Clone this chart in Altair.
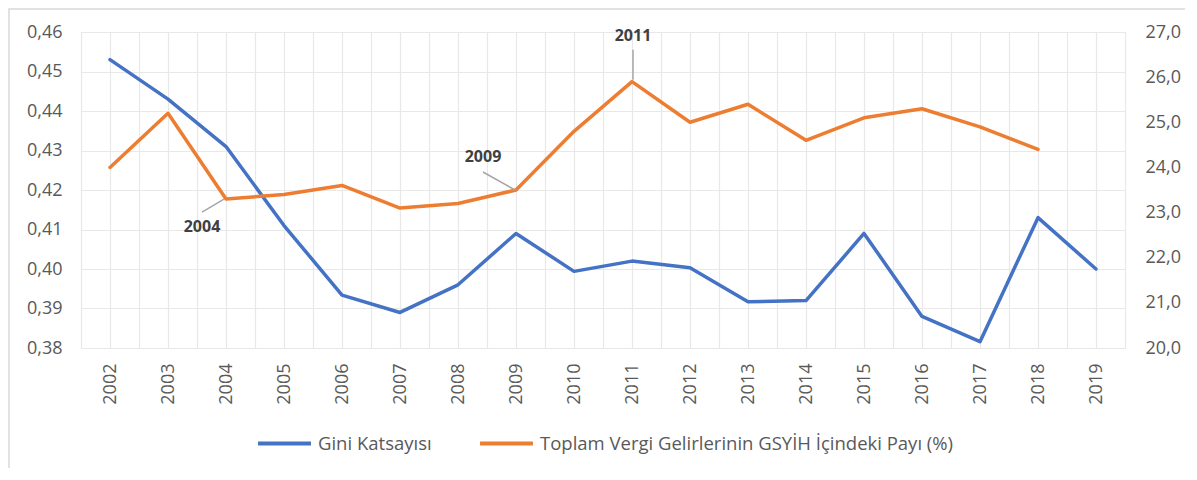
import altair as alt
import pandas as pd

# ---------------- data ----------------
YEARS = [2002, 2003, 2004, 2005, 2006, 2007, 2008, 2009, 2010,
         2011, 2012, 2013, 2014, 2015, 2016, 2017, 2018, 2019]
GINI = [0.453, 0.443, 0.431, 0.411, 0.3934, 0.389, 0.396, 0.409, 0.3994,
        0.402, 0.4003, 0.3917, 0.392, 0.409, 0.388, 0.3816, 0.413, 0.400]
TAX = [24.0, 25.2, 23.3, 23.4, 23.6, 23.1, 23.2, 23.5, 24.8,
       25.9, 25.0, 25.4, 24.6, 25.1, 25.3, 24.9, 24.4, None]
SERIES = ["Gini Katsayısı", "Toplam Vergi Gelirlerinin GSYİH İçindeki Payı (%)"]
LEFT_TICKS = [0.38, 0.39, 0.40, 0.41, 0.42, 0.43, 0.44, 0.45, 0.46]
RIGHT_TICKS = [20, 21, 22, 23, 24, 25, 26, 27]
ANNOT_YEARS = [2004, 2009, 2011]

# ---------------- styles ----------------
FONT = "Open Sans"
TXT = "#595959"
GRID = "#e8e8e8"
BLUE = "#4472C4"
ORANGE = "#ED7D31"
# (text dx, text dy, leader start offset x/y, leader end offset x/y)
ANNOT_STYLE = {
    2004: dict(dx=-24, dy=28, x1=-2, y1=0, x2=-24, y2=13),
    2009: dict(dx=-33, dy=-33, x1=-1, y1=0, x2=-33, y2=-18),
    2011: dict(dx=1, dy=-46, x1=1, y1=-2, x2=1, y2=-32),
}

gini_df = pd.DataFrame({"year": YEARS, "value": GINI, "series": SERIES[0]})
tax_df = pd.DataFrame({"year": YEARS, "value": TAX, "series": SERIES[1]})

grid_vals = sorted([y - 0.5 for y in YEARS] + [YEARS[-1] + 0.5] + YEARS)

color = alt.Color(
    "series:N",
    scale=alt.Scale(domain=SERIES, range=[BLUE, ORANGE]),
    legend=alt.Legend(
        title=None, orient="none", direction="horizontal",
        legendX=175, legendY=383,
        symbolType="stroke", symbolSize=2800, symbolStrokeWidth=4,
        labelFont=FONT, labelFontSize=18.5, labelColor=TXT, labelLimit=1000,
        labelOffset=5, columnPadding=40,
    ),
)

x_axis = alt.Axis(
    values=grid_vals,
    labelExpr="datum.value % 1 == 0 ? toString(datum.value) : ''",
    labelAngle=-90, labelPadding=15, labelOverlap=False, labelFlush=False,
    labelFont=FONT, labelFontSize=18, labelColor=TXT,
    grid=True, gridColor=GRID, gridWidth=1.2,
    ticks=False, domain=False, title=None,
)
x_scale = alt.Scale(domain=[2001.5, 2019.5], nice=False, zero=False)
x = alt.X("year:Q", scale=x_scale, axis=x_axis)

y_left = alt.Y(
    "value:Q",
    scale=alt.Scale(domain=[0.38, 0.46], nice=False, zero=False),
    axis=alt.Axis(
        values=LEFT_TICKS, orient="left",
        labelExpr="replace(format(datum.value, '.2f'), '.', ',')",
        labelPadding=19, labelFont=FONT, labelFontSize=18, labelColor=TXT,
        grid=True, gridColor=GRID, gridWidth=1.2,
        ticks=False, domain=False, title=None,
    ),
)

y_right_axis = alt.Axis(
    values=RIGHT_TICKS, orient="right",
    labelExpr="replace(format(datum.value, '.1f'), '.', ',')",
    labelPadding=20, labelFont=FONT, labelFontSize=18, labelColor=TXT,
    grid=False, ticks=False, domain=False, title=None,
)
y_right_scale = alt.Scale(domain=[20, 27], nice=False, zero=False)
y_right = alt.Y("value:Q", scale=y_right_scale, axis=y_right_axis)

gini_line = alt.Chart(gini_df).mark_line(strokeWidth=3.5, strokeCap="round", strokeJoin="round").encode(
    x=x, y=y_left, color=color
)

tax_line = alt.Chart(tax_df).mark_line(strokeWidth=3.5, strokeCap="round", strokeJoin="round").encode(
    x=x, y=y_right, color=color
)

annot_layers = []
for yr in ANNOT_YEARS:
    s = ANNOT_STYLE[yr]
    sub = tax_df[tax_df["year"] == yr]
    rule = alt.Chart(sub).mark_rule(
        color="#a6a6a6", strokeWidth=1.5,
        xOffset=s["x1"], yOffset=s["y1"], x2Offset=s["x2"], y2Offset=s["y2"],
    ).encode(
        x=x, x2=alt.X2("year"),
        y=y_right, y2=alt.Y2("value"),
    )
    txt = alt.Chart(sub).mark_text(
        font=FONT, fontSize=16, fontWeight="bold", color="#404040",
        dx=s["dx"], dy=s["dy"], align="center", baseline="middle",
    ).encode(
        x=x, y=y_right,
        text=alt.Text("year:N"),
    )
    annot_layers += [rule, txt]

tax_group = alt.layer(tax_line, *annot_layers)

frame = alt.Chart(pd.DataFrame({"a": [0]})).mark_rect(
    fillOpacity=0, stroke="#d9d9d9", strokeWidth=1.5
).encode(
    x=alt.value(-72), x2=alt.value(1200), y=alt.value(-23), y2=alt.value(600)
)

chart = alt.layer(gini_line, tax_group, frame).resolve_scale(
    y="independent"
).properties(
    width=1044, height=316,
    padding={"left": 73, "top": 24, "right": 60, "bottom": 120},
    autosize=alt.AutoSizeParams(type="none"),
).configure_view(stroke=None).configure(background="white")

chart.save("out.html", embed_options={"renderer": "svg", "actions": False})
